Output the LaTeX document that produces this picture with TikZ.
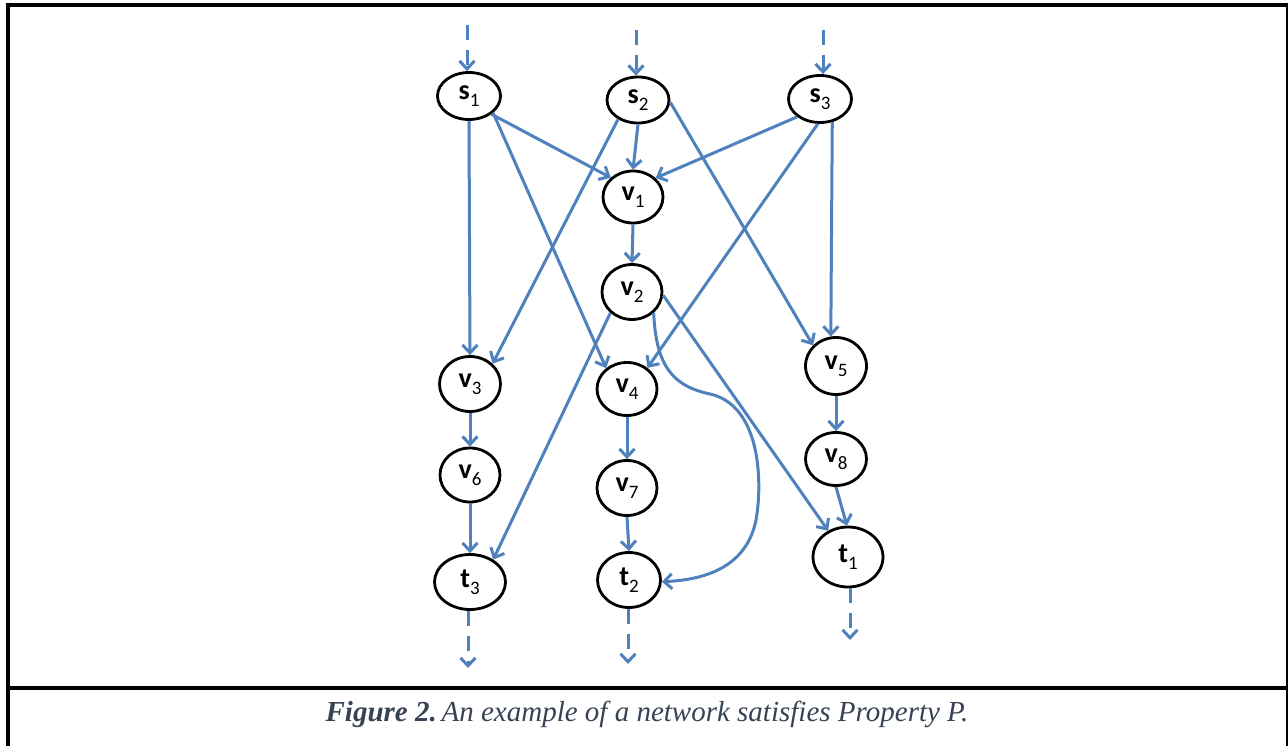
\documentclass[tikz,border=0pt]{standalone}
\usepackage{fontspec}
\setmainfont{Carlito}
\newfontfamily\capfont{Liberation Serif}
\usetikzlibrary{shapes.geometric,arrows.meta}
\definecolor{eblue}{RGB}{79,129,189}
\definecolor{capcol}{RGB}{55,66,84}
\newcommand{\nlab}[2]{{\bfseries #1}\raisebox{-0.5ex}{\fontsize{19}{19}\selectfont #2}}
\begin{document}
\begin{tikzpicture}[x=1pt,y=-1pt,
  nd/.style={ellipse,draw=black,fill=white,line width=2.8pt,minimum width=62pt,minimum height=52pt,inner sep=0pt,font=\fontsize{28}{28}\selectfont},
  ed/.style={draw=eblue,line width=3pt,-{Straight Barb[length=8pt,width=15pt,line width=3pt]}},
  dsh/.style={ed,dash pattern=on 15pt off 10pt},
  frame/.style={line width=4pt,black}]
\useasboundingbox (0,0) rectangle (1288,746);
% frame
\draw[frame] (6,5) -- (1288,5);
\draw[frame] (8,3) -- (8,746);
\draw[line width=2.5pt] (1287,3) -- (1287,746);
\draw[frame] (8,688) -- (1288,688);
% nodes
\node[nd,minimum width=63pt,minimum height=47pt] (s1) at (469,96) {\nlab{s}{1}};
\node[nd,minimum width=62pt,minimum height=46pt] (s2) at (638,100) {\nlab{s}{2}};
\node[nd,minimum width=63pt,minimum height=47pt] (s3) at (820,99) {\nlab{s}{3}};
\node[nd,minimum width=60pt] (v1) at (633,197) {\nlab{v}{1}};
\node[nd,minimum width=60pt,minimum height=55pt] (v2) at (632,292) {\nlab{v}{2}};
\node[nd,minimum width=61pt,minimum height=55pt] (v3) at (470,384) {\nlab{v}{3}};
\node[nd,minimum width=60pt,minimum height=53pt] (v4) at (627,389) {\nlab{v}{4}};
\node[nd,minimum width=61pt,minimum height=57pt] (v5) at (836,366) {\nlab{v}{5}};
\node[nd,minimum width=60pt,minimum height=54pt] (v6) at (470,475) {\nlab{v}{6}};
\node[nd,minimum width=60pt,minimum height=55pt] (v7) at (627,488) {\nlab{v}{7}};
\node[nd,minimum width=61pt,minimum height=53pt] (v8) at (836,459) {\nlab{v}{8}};
\node[nd,minimum width=70pt,minimum height=60pt] (t1) at (848,557) {\nlab{t}{1}};
\node[nd,minimum width=63pt,minimum height=55pt] (t2) at (629,580) {\nlab{t}{2}};
\node[nd,minimum width=71pt,minimum height=55pt] (t3) at (470,582) {\nlab{t}{3}};
% free ends of dashed arrows
\coordinate (in1) at (467,25);
\coordinate (in2) at (636,30);
\coordinate (in3) at (823,30);
\coordinate (out3) at (468,668);
\coordinate (out2) at (628,664);
\coordinate (out1) at (850,640);
\draw[dsh] (in1) -- (in1 |- s1.north);
\draw[dsh] (in2) -- (in2 |- s2.north);
\draw[dsh] (in3) -- (in3 |- s3.north);
\draw[dsh] (out3 |- t3.south) -- (out3);
\draw[dsh] (out2 |- t2.south) -- (out2);
\draw[dsh] (out1 |- t1.south) -- (out1);
% edges
\draw[ed] (s1.south) -- (v3.north);
\draw[ed] (s1.-39) -- (v1.139);
\draw[ed] (s1.-35) -- (v4.135);
\draw[ed] (s2.south) -- (v1.north);
\draw[ed] (s2.-136) -- (v3.42);
\draw[ed] (s2.-4) -- (v5.138);
\draw[ed] (s3.-142) -- (v1.40);
\draw[ed] (s3.-95) -- (v4.46);
\draw[ed] (s3.-62) -- (v5.100);
\draw[ed] (v1.south) -- (v2.north);
\draw[ed] (v2.-136) -- (t3.44);
\draw[ed] (v2.-6) -- (t1.127);
\draw[ed] (v2.-44) .. controls (656,365) and (672,386) .. (710,394)
  .. controls (760,405) and (763,480) .. (756,520)
  .. controls (746,570) and (700,580) .. (t2.-3);
\draw[ed] (v3.south) -- (v6.north);
\draw[ed] (v6.south) -- (t3.north);
\draw[ed] (v4.south) -- (v7.north);
\draw[ed] (v7.south) -- (t2.north);
\draw[ed] (v5.south) -- (v8.north);
\draw[ed] (v8.south) -- (t1.92);
% caption
\node[font=\capfont\itshape\fontsize{29}{29}\selectfont,text=capcol] (cap) at (647,714)
  {\textbf{Figure 2.}\,An example of a network satisfies Property P.};
\end{tikzpicture}
\end{document}
